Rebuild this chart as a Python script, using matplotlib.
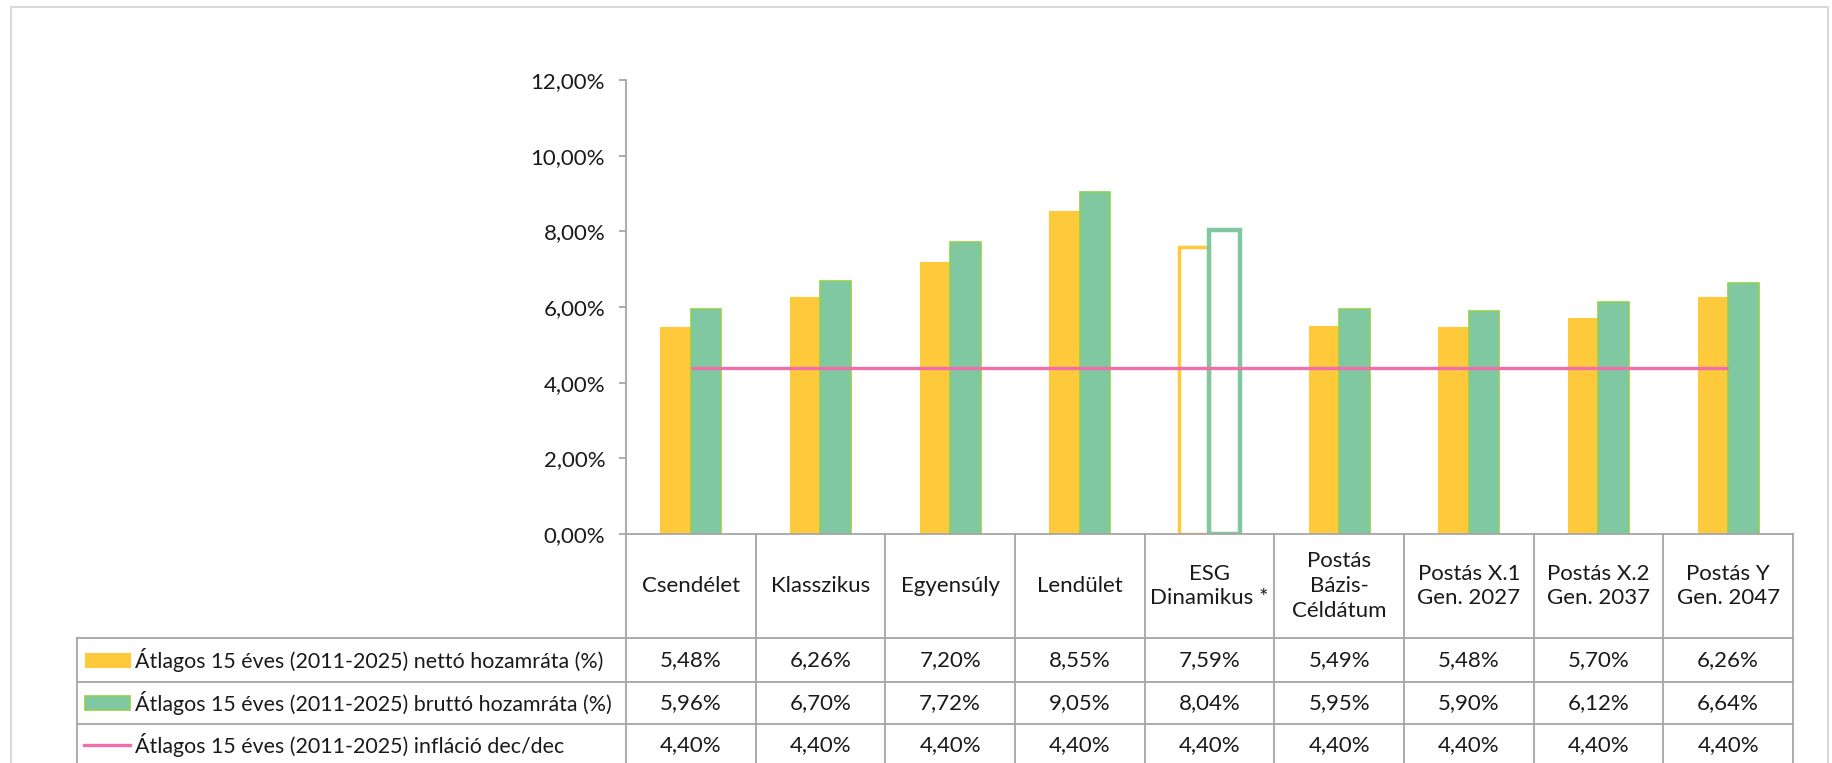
import matplotlib
matplotlib.use("Agg")
import matplotlib.pyplot as plt
import matplotlib.transforms as mtransforms
from matplotlib.lines import Line2D
from matplotlib.patches import Rectangle
import numpy as np

plt.rcParams['font.family'] = ['Lato', 'DejaVu Sans']

# data
categories = ["Csendélet", "Klasszikus", "Egyensúly", "Lendület", "ESG\nDinamikus *",
              "Postás\nBázis-\nCéldátum", "Postás X.1\nGen. 2027", "Postás X.2\nGen. 2037",
              "Postás Y\nGen. 2047"]
netto = [5.48, 6.26, 7.20, 8.55, 7.59, 5.49, 5.48, 5.70, 6.26]
brutto = [5.96, 6.70, 7.72, 9.05, 8.04, 5.95, 5.90, 6.12, 6.64]
inflacio = [4.40, 4.40, 4.40, 4.40, 4.40, 4.40, 4.40, 4.40, 4.40]
hollow = ["ESG\nDinamikus *"]
series_names = ["Átlagos 15 éves (2011-2025) nettó hozamráta (%)",
                "Átlagos 15 éves (2011-2025) bruttó hozamráta (%)",
                "Átlagos 15 éves (2011-2025) infláció dec/dec"]
yticks = [0, 2, 4, 6, 8, 10, 12]

YELLOW = "#FFC93C"
GREEN = "#80C8A2"
GREEN_EDGE = "#92D050"
PINK = "#F06EAA"
GRID = "#A6A6A6"
TXT = "#1a1a1a"
FS = 16

W, H = 1832, 763
fig = plt.figure(figsize=(W / 100, H / 100), dpi=100)

# pixel layout
ax_left, ax_right = 626, 1793
ax_top, ax_bot = 80, 534
row_lines = [638, 682, 724, 766]
tbl_left = 77

def fx(px):
    return px / W

def fy(py):
    return 1 - py / H

ax = fig.add_axes([fx(ax_left), fy(ax_bot), fx(ax_right - ax_left), (ax_bot - ax_top) / H])
n = len(categories)
x = np.arange(n)
ax.set_xlim(-0.5, n - 0.5)
ax.set_ylim(0, 12)

bw = 0.235
face_n = ["none" if c in hollow else YELLOW for c in categories]
face_b = ["none" if c in hollow else GREEN for c in categories]
edge_n = [YELLOW for c in categories]
edge_b = [GREEN if c in hollow else GREEN_EDGE for c in categories]
lw_n = [2.5 if c in hollow else 0.8 for c in categories]
lw_b = [3.2 if c in hollow else 1.2 for c in categories]
ax.bar(x - bw / 2, netto, bw, color=face_n, edgecolor=edge_n, linewidth=lw_n, zorder=2)
ax.bar(x + bw / 2, brutto, bw, color=face_b, edgecolor=edge_b, linewidth=lw_b, zorder=2)
ax.plot(x, inflacio, color=PINK, linewidth=2.4, zorder=3, solid_capstyle="butt")

for s in ["top", "right"]:
    ax.spines[s].set_visible(False)
for s in ["left", "bottom"]:
    ax.spines[s].set_color(GRID)
    ax.spines[s].set_linewidth(1.3)
ax.set_yticks(yticks)
ax.set_yticklabels([f"{v:.2f}%".replace(".", ",") for v in yticks])
ax.tick_params(axis="y", direction="out", length=5, width=1.3, color=GRID,
               labelsize=FS, labelcolor=TXT, pad=10)
ax.set_xticks([])

# table below axis
tr = mtransforms.blended_transform_factory(ax.transData, fig.transFigure)
for b in np.arange(n + 1) - 0.5:
    fig.add_artist(Line2D([b, b], [fy(ax_bot), fy(H + 10)], transform=tr, color=GRID, lw=1.3))
for ry in row_lines:
    fig.add_artist(Line2D([fx(tbl_left), fx(ax_right)], [fy(ry), fy(ry)],
                          transform=fig.transFigure, color=GRID, lw=1.3))
fig.add_artist(Line2D([fx(tbl_left), fx(tbl_left)], [fy(row_lines[0]), fy(H + 10)],
                      transform=fig.transFigure, color=GRID, lw=1.3))

for i, c in enumerate(categories):
    fig.text(i, fy((ax_bot + row_lines[0]) / 2), c, transform=tr, ha="center", va="center",
             fontsize=FS, color=TXT, linespacing=1.3)

rows = [netto, brutto, inflacio]
for r, vals in enumerate(rows):
    yc = fy((row_lines[r] + row_lines[r + 1]) / 2)
    for i, v in enumerate(vals):
        fig.text(i, yc, f"{v:.2f}%".replace(".", ","), transform=tr, ha="center", va="center",
                 fontsize=FS, color=TXT)
    fig.text(fx(135), yc, series_names[r], ha="left", va="center", fontsize=15.4, color=TXT)

# legend keys in the table
y0 = (row_lines[0] + row_lines[1]) / 2
fig.add_artist(Rectangle((fx(85), fy(y0 + 7)), fx(45), 14 / H, transform=fig.transFigure,
                         facecolor=YELLOW, edgecolor=YELLOW, lw=0.8))
y1 = (row_lines[1] + row_lines[2]) / 2
fig.add_artist(Rectangle((fx(85), fy(y1 + 7)), fx(45), 14 / H, transform=fig.transFigure,
                         facecolor=GREEN, edgecolor=GREEN_EDGE, lw=1.2))
y2 = (row_lines[2] + row_lines[3]) / 2
fig.add_artist(Line2D([fx(84), fx(130)], [fy(y2), fy(y2)], transform=fig.transFigure,
                      color=PINK, lw=2.4))

# chart border
fig.add_artist(Rectangle((fx(11), fy(H + 10)), fx(1817), (H + 3) / H, transform=fig.transFigure,
                         facecolor="none", edgecolor="#D9D9D9", lw=1.5))

fig.savefig("out.png", dpi=100)
